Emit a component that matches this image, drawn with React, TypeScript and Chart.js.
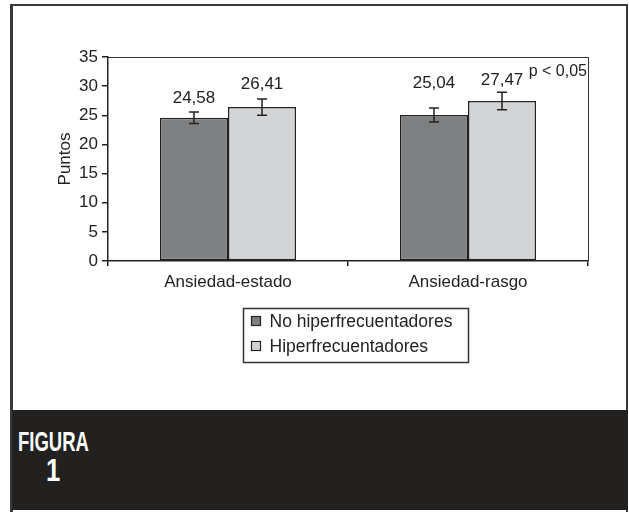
import React, { useEffect, useRef } from "react";
import { Chart, registerables } from "chart.js";

Chart.register(...registerables);

const categories = ["Ansiedad-estado", "Ansiedad-rasgo"];
const seriesNames = ["No hiperfrecuentadores", "Hiperfrecuentadores"];
const noHiperValues = [24.58, 25.04];
const hiperValues = [26.41, 27.47];
const noHiperErrors = [1.0, 1.2];
const hiperErrors = [1.4, 1.5];
const yMin = 0;
const yMax = 35;
const yStep = 5;
const yTitle = "Puntos";
const pNote = "p < 0,05";
const figureWord = "FIGURA";
const figureNumber = "1";

const seriesColors = ["#7f8082", "#d3d4d6"];
const errorSeries = [noHiperErrors, hiperErrors];
const FONT = "'Liberation Sans', Arial, Helvetica, sans-serif";
const INK = "#222222";

const fmt = (v: number) => v.toFixed(2).replace(".", ",");

const annotPlugin = {
  id: "annot",
  afterDatasetsDraw(chart: any, _args: any, opts: any) {
    const ctx = chart.ctx;
    const ys = chart.scales.y;
    const ca = chart.chartArea;
    ctx.save();
    // plot-area frame (top and right)
    ctx.strokeStyle = "#333";
    ctx.lineWidth = 1;
    ctx.beginPath();
    ctx.moveTo(ca.left, ca.top + 0.5);
    ctx.lineTo(ca.right + 0.5, ca.top + 0.5);
    ctx.lineTo(ca.right + 0.5, ca.bottom);
    ctx.stroke();

    chart.data.datasets.forEach((ds: any, i: number) => {
      const meta = chart.getDatasetMeta(i);
      const errs = errorSeries[i];
      meta.data.forEach((el: any, j: number) => {
        const v = ds.data[j];
        const e = errs[j];
        const top = ys.getPixelForValue(v + e);
        const bot = ys.getPixelForValue(v - e);
        ctx.strokeStyle = INK;
        ctx.lineWidth = 1.5;
        ctx.beginPath();
        ctx.moveTo(el.x, top);
        ctx.lineTo(el.x, bot);
        ctx.moveTo(el.x - 5, top);
        ctx.lineTo(el.x + 5, top);
        ctx.moveTo(el.x - 5, bot);
        ctx.lineTo(el.x + 5, bot);
        ctx.stroke();
        ctx.fillStyle = INK;
        ctx.font = `17px ${FONT}`;
        ctx.textAlign = "center";
        ctx.textBaseline = "alphabetic";
        ctx.fillText(fmt(v), el.x, top - opts.gaps[i][j]);
      });
    });

    ctx.font = `16px ${FONT}`;
    ctx.textAlign = "right";
    ctx.fillStyle = INK;
    ctx.fillText(pNote, ca.right - 1, ca.top + 19);
    ctx.restore();
  },
  afterDraw(chart: any, _args: any, opts: any) {
    const ctx = chart.ctx;
    const L = opts.legend;
    ctx.save();
    ctx.strokeStyle = "#333";
    ctx.lineWidth = 1.5;
    ctx.strokeRect(L.x, L.y, L.w, L.h);
    ctx.font = `17.5px ${FONT}`;
    ctx.textAlign = "left";
    ctx.textBaseline = "alphabetic";
    chart.data.datasets.forEach((ds: any, i: number) => {
      const rowY = L.y + L.firstRow + i * L.rowGap;
      ctx.fillStyle = ds.backgroundColor;
      ctx.fillRect(L.x + 8, rowY - 9, 9, 9);
      ctx.strokeStyle = INK;
      ctx.lineWidth = 1.2;
      ctx.strokeRect(L.x + 8, rowY - 9, 9, 9);
      ctx.fillStyle = INK;
      ctx.fillText(ds.label, L.x + 26, rowY + 1);
    });
    ctx.restore();
  },
};

export default function App() {
  const ref = useRef<HTMLCanvasElement | null>(null);

  useEffect(() => {
    if (!ref.current) return;
    const chart = new Chart(ref.current, {
      type: "bar",
      data: {
        labels: categories,
        datasets: [
          {
            label: seriesNames[0],
            data: noHiperValues,
            backgroundColor: seriesColors[0],
            borderColor: INK,
            borderWidth: 1.5,
            borderSkipped: false,
          },
          {
            label: seriesNames[1],
            data: hiperValues,
            backgroundColor: seriesColors[1],
            borderColor: INK,
            borderWidth: 1.5,
            borderSkipped: false,
          },
        ],
      },
      options: {
        responsive: false,
        animation: false,
        layout: { padding: { top: 57, right: 41, bottom: 109, left: 0 } },
        datasets: { bar: { categoryPercentage: 0.567, barPercentage: 1 } },
        plugins: {
          legend: { display: false },
          tooltip: { enabled: false },
          annot: {
            gaps: [
              [9, 20],
              [10, 7],
            ],
            legend: { x: 243.5, y: 308.5, w: 225, h: 54, firstRow: 17, rowGap: 25 },
          },
        } as any,
        scales: {
          x: {
            afterFit: (s: any) => {
              s.height = 40;
            },
            grid: {
              drawOnChartArea: false,
              drawTicks: true,
              tickLength: 5,
              color: INK,
              lineWidth: 1.5,
            },
            border: { display: true, color: INK, width: 1.5 },
            ticks: { color: INK, font: { size: 17, family: FONT }, padding: 6 },
          },
          y: {
            min: yMin,
            max: yMax,
            afterFit: (s: any) => {
              s.width = 108;
            },
            ticks: {
              stepSize: yStep,
              color: INK,
              font: { size: 17, family: FONT },
              padding: 4,
            },
            grid: {
              drawOnChartArea: false,
              drawTicks: true,
              tickLength: 6,
              color: INK,
              lineWidth: 1.5,
            },
            border: { display: true, color: INK, width: 1.5 },
            title: {
              display: true,
              text: yTitle,
              color: INK,
              font: { size: 17, family: FONT },
              padding: { top: 55, bottom: 0 },
            },
          },
        },
      },
      plugins: [annotPlugin],
    });
    return () => chart.destroy();
  }, []);

  const figFont = "'Liberation Sans Narrow', 'Liberation Sans', Arial, sans-serif";

  return (
    <div style={{ position: "absolute", left: 0, top: 0, width: 629, height: 512, background: "#fff", overflow: "hidden" }}>
      <canvas ref={ref} width={629} height={410} style={{ position: "absolute", left: 0, top: 0, width: 629, height: 410 }} />
      <div
        style={{
          position: "absolute",
          left: 10,
          top: 4,
          width: 618,
          height: 508,
          boxSizing: "border-box",
          borderLeft: "3px solid #3a3a3a",
          borderTop: "2px solid #3a3a3a",
          borderRight: "2px solid #3a3a3a",
        }}
      />
      <div style={{ position: "absolute", left: 12, top: 410, width: 616, height: 100, background: "#22211f" }}>
        <div
          style={{
            position: "absolute",
            left: 6,
            top: 18,
            fontFamily: figFont,
            fontWeight: "bold",
            fontSize: 28,
            lineHeight: "28px",
            color: "#fff",
            whiteSpace: "nowrap",
            transform: "scaleX(0.66)",
            transformOrigin: "left top",
          }}
        >
          {figureWord}
        </div>
        <div
          style={{
            position: "absolute",
            left: 30,
            width: 22,
            textAlign: "center",
            top: 44,
            fontFamily: figFont,
            fontWeight: "bold",
            fontSize: 32,
            lineHeight: "32px",
            color: "#fff",
            transform: "scaleX(0.8)",
            transformOrigin: "center top",
          }}
        >
          {figureNumber}
        </div>
      </div>
    </div>
  );
}
